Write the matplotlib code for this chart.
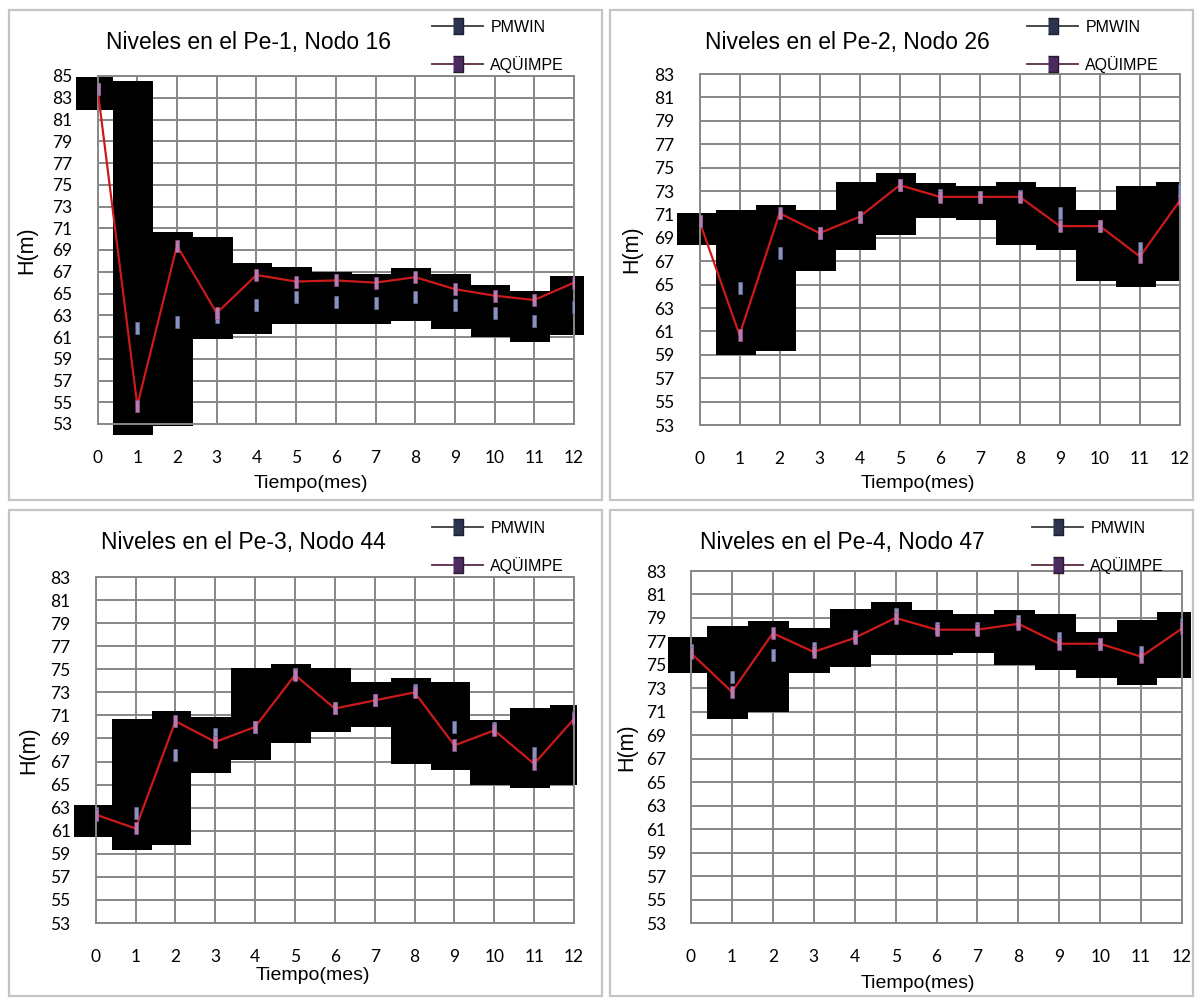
import matplotlib
matplotlib.use("Agg")
import matplotlib.pyplot as plt
from matplotlib.lines import Line2D
from matplotlib.patches import Rectangle


W, H = 1196, 998

months = list(range(13))
month_labels = [str(m) for m in months]

# --- Pe-1, Nodo 16 ---
title_1 = "Niveles en el Pe-1, Nodo 16"
yticks_1 = list(range(53, 86, 2))
pmwin_1 = [83.8, 61.8, 62.4, 62.8, 63.9, 64.7, 64.2, 64.1, 64.7, 63.9, 63.2, 62.5, 63.8]
aquimpe_1 = [83.8, 54.7, 69.4, 63.2, 66.7, 66.1, 66.2, 66.0, 66.5, 65.4, 64.8, 64.4, 66.0]
low_1 = [81.9, 52.0, 52.8, 60.8, 61.3, 62.2, 62.2, 62.2, 62.5, 61.7, 61.0, 60.5, 61.2]
high_1 = [84.9, 84.5, 70.7, 70.2, 67.8, 67.4, 67.0, 66.8, 67.3, 66.8, 65.8, 65.2, 66.6]

# --- Pe-2, Nodo 26 ---
title_2 = "Niveles en el Pe-2, Nodo 26"
yticks_2 = list(range(53, 84, 2))
pmwin_2 = [70.4, 64.7, 67.7, 69.4, 70.8, 73.5, 72.7, 72.5, 72.6, 71.1, 70.0, 68.1, 73.1]
aquimpe_2 = [70.4, 60.7, 71.1, 69.4, 70.8, 73.5, 72.5, 72.5, 72.5, 70.0, 70.0, 67.4, 72.2]
low_2 = [68.4, 59.0, 59.3, 66.2, 68.0, 69.2, 70.7, 70.5, 68.4, 68.0, 65.3, 64.8, 65.3]
high_2 = [71.1, 71.4, 71.8, 71.4, 73.8, 74.5, 73.7, 73.4, 73.8, 73.3, 71.4, 73.4, 73.8]

# --- Pe-3, Nodo 44 ---
title_3 = "Niveles en el Pe-3, Nodo 44"
yticks_3 = list(range(53, 84, 2))
pmwin_3 = [62.5, 62.5, 67.6, 69.4, 70.0, 74.6, 71.6, 72.3, 73.2, 70.0, 69.9, 67.7, 70.9]
aquimpe_3 = [62.4, 61.2, 70.5, 68.7, 70.0, 74.5, 71.6, 72.3, 73.0, 68.4, 69.7, 66.8, 70.7]
low_3 = [60.5, 59.3, 59.8, 66.0, 67.1, 68.6, 69.6, 70.0, 66.8, 66.3, 65.0, 64.7, 65.0]
high_3 = [63.2, 70.7, 71.4, 70.9, 75.1, 75.5, 75.1, 73.9, 74.2, 73.9, 70.6, 71.6, 71.9]

# --- Pe-4, Nodo 47 ---
title_4 = "Niveles en el Pe-4, Nodo 47"
yticks_4 = list(range(53, 84, 2))
pmwin_4 = [76.3, 74.0, 75.8, 76.4, 77.5, 79.3, 78.1, 78.1, 78.7, 77.3, 76.8, 76.1, 78.5]
aquimpe_4 = [76.0, 72.7, 77.7, 76.1, 77.3, 79.0, 78.0, 78.0, 78.5, 76.8, 76.8, 75.7, 78.1]
low_4 = [74.3, 70.4, 71.0, 74.3, 74.8, 75.8, 75.8, 76.0, 75.0, 74.6, 73.9, 73.3, 73.9]
high_4 = [77.4, 78.3, 78.7, 78.1, 79.8, 80.4, 79.7, 79.3, 79.7, 79.3, 77.8, 78.8, 79.5]

series_names = ["PMWIN", "AQÜIMPE"]

ARIAL = "Liberation Sans"
CALIBRI = "Lato"
GRID = "#878787"
BAR_MARK = [(-0.35, -1), (0.35, -1), (0.35, 1), (-0.35, 1)]
LEG_MARK = [(-0.6, -1), (0.6, -1), (0.6, 1), (-0.6, 1)]


def fx(px):
    return px / W


def fy(py):
    return 1 - py / H


def panel(fig, box, frame, title, title_xy, leg_xy, xlab_xy, ylab_x,
          yticks, pm, aq, lo, hi, right_end):
    left, top, right, bottom = box
    ax = fig.add_axes([fx(left), fy(bottom), (right - left) / W, (bottom - top) / H])

    fig.add_artist(Rectangle((fx(frame[0]), fy(frame[3])), (frame[2] - frame[0]) / W,
                             (frame[3] - frame[1]) / H, transform=fig.transFigure,
                             fill=False, edgecolor="#c4c4c4", lw=1.6))

    # black blocks behind the curves, one per month, touching each other
    edges = [months[0] - 0.55] + [m + 0.4 for m in months[:-1]] + [months[-1] + right_end]
    ax.bar(edges[:-1], [h - l for l, h in zip(lo, hi)], bottom=lo,
           width=[b - a for a, b in zip(edges[:-1], edges[1:])], align="edge",
           color="black", edgecolor="none", zorder=2, clip_on=False)

    ax.plot(months, aq, color="#cc1a1a", lw=1.6, zorder=3)
    ax.plot(months, pm, ls="none", marker=BAR_MARK, ms=9, mfc="#8a92c0",
            mec="#6a70a0", mew=0.5, zorder=4)
    ax.plot(months, aq, ls="none", marker=BAR_MARK, ms=9, mfc="#b87ab0",
            mec="#905a90", mew=0.5, zorder=4)

    ax.set_xlim(0, 12)
    ax.set_ylim(yticks[0], yticks[-1])
    ax.set_xticks(months)
    ax.set_xticklabels(month_labels)
    ax.set_yticks(yticks)
    ax.set_axisbelow(True)
    ax.grid(True, color=GRID, lw=1.4)
    for s in ax.spines.values():
        s.set_color(GRID)
        s.set_linewidth(1.4)
    ax.tick_params(axis="x", length=0, pad=19, labelsize=12.5)
    ax.tick_params(axis="y", length=0, pad=18, labelsize=12.5)
    for lbl in ax.get_xticklabels() + ax.get_yticklabels():
        lbl.set_fontfamily(CALIBRI)

    ax.set_ylabel("H(m)", fontsize=15.5, family=ARIAL)
    ax.yaxis.set_label_coords((ylab_x - left) / (right - left), 0.5)
    ax.yaxis.label.set_va("center")
    ax.set_xlabel("Tiempo(mes)", fontsize=14, family=ARIAL)
    ax.xaxis.set_label_coords((xlab_xy[0] - left) / (right - left),
                              (bottom - xlab_xy[1]) / (bottom - top))
    ax.xaxis.label.set_va("center")

    fig.text(fx(title_xy[0]), fy(title_xy[1]), title, ha="center", va="center",
             fontsize=16.5, family=ARIAL)

    handles = [
        Line2D([], [], color="#3c3c3c", lw=1.3, marker=LEG_MARK, ms=11,
               mfc="#2c3550", mec="#1c2030"),
        Line2D([], [], color="#5a2a48", lw=1.3, marker=LEG_MARK, ms=11,
               mfc="#4a2a60", mec="#2a1a30"),
    ]
    ax.legend(handles, series_names, loc="upper left",
              bbox_to_anchor=(fx(leg_xy[0]), fy(leg_xy[1])),
              bbox_transform=fig.transFigure, frameon=False,
              prop={"family": ARIAL, "size": 11.5}, handlelength=3.2,
              handletextpad=0.45, labelspacing=1.3, borderpad=0, borderaxespad=0)
    return ax


fig = plt.figure(figsize=(W / 100, H / 100), dpi=100)
fig.patch.set_facecolor("white")

panel(fig, (97.6, 76, 574, 424), (9, 10, 602, 500), title_1, (248, 43),
      (432, 20), (311, 483), 27, yticks_1, pmwin_1, aquimpe_1, low_1, high_1, 0.25)
panel(fig, (699.5, 74, 1180, 425), (610, 10, 1193, 500), title_2, (847, 43),
      (1027, 20), (918, 483), 632, yticks_2, pmwin_2, aquimpe_2, low_2, high_2, 0.02)
panel(fig, (95.7, 577, 574, 923), (9, 510, 602, 996), title_3, (243, 543),
      (432, 521), (313, 976), 29, yticks_3, pmwin_3, aquimpe_3, low_3, high_3, 0.08)
panel(fig, (691, 571, 1182, 923), (610, 510, 1193, 996), title_4, (842, 543),
      (1032, 521), (918, 983), 627, yticks_4, pmwin_4, aquimpe_4, low_4, high_4, 0.22)

fig.savefig("out.png", dpi=100)
